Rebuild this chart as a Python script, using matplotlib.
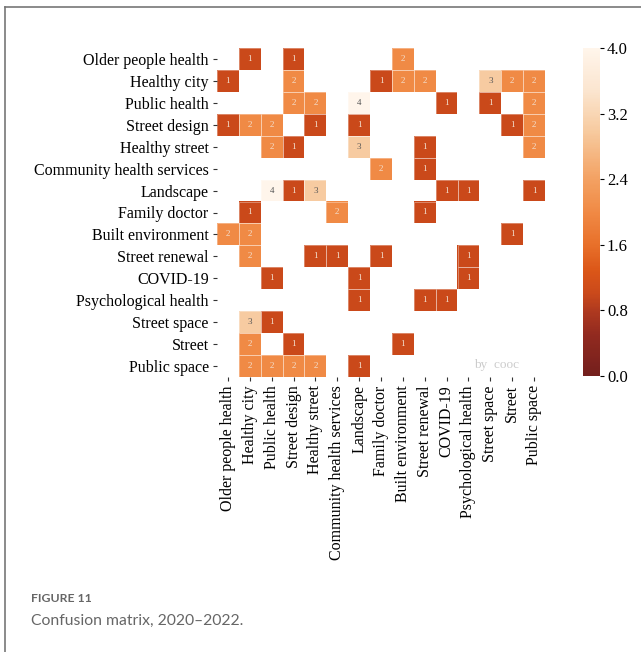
import numpy as np
import matplotlib
matplotlib.use("Agg")
import matplotlib.pyplot as plt
from matplotlib.lines import Line2D
from matplotlib.colors import LinearSegmentedColormap

labels = ["Older people health", "Healthy city", "Public health", "Street design",
          "Healthy street", "Community health services", "Landscape", "Family doctor",
          "Built environment", "Street renewal", "COVID-19", "Psychological health",
          "Street space", "Street", "Public space"]

# non-zero cells: (row, col, count)
cells = [
    (0, 1, 1), (0, 3, 1), (0, 8, 2),
    (1, 0, 1), (1, 3, 2), (1, 7, 1), (1, 8, 2), (1, 9, 2), (1, 12, 3), (1, 13, 2), (1, 14, 2),
    (2, 3, 2), (2, 4, 2), (2, 6, 4), (2, 10, 1), (2, 12, 1), (2, 14, 2),
    (3, 0, 1), (3, 1, 2), (3, 2, 2), (3, 4, 1), (3, 6, 1), (3, 13, 1), (3, 14, 2),
    (4, 2, 2), (4, 3, 1), (4, 6, 3), (4, 9, 1), (4, 14, 2),
    (5, 7, 2), (5, 9, 1),
    (6, 2, 4), (6, 3, 1), (6, 4, 3), (6, 10, 1), (6, 11, 1), (6, 14, 1),
    (7, 1, 1), (7, 5, 2), (7, 9, 1),
    (8, 0, 2), (8, 1, 2), (8, 13, 1),
    (9, 1, 2), (9, 4, 1), (9, 5, 1), (9, 7, 1), (9, 11, 1),
    (10, 2, 1), (10, 6, 1), (10, 11, 1),
    (11, 6, 1), (11, 9, 1), (11, 10, 1),
    (12, 1, 3), (12, 2, 1),
    (13, 1, 2), (13, 3, 1), (13, 8, 1),
    (14, 1, 2), (14, 2, 2), (14, 3, 2), (14, 4, 2), (14, 6, 1),
]
cbar_ticks = [0.0, 0.8, 1.6, 2.4, 3.2, 4.0]

n = len(labels)
mat = np.zeros((n, n))
for r, c, v in cells:
    mat[r, c] = v
masked = np.ma.masked_equal(mat, 0)

plt.rcParams["font.family"] = ["Liberation Serif", "DejaVu Serif"]

# reddish version of Oranges_r, as in the figure
cmap = LinearSegmentedColormap.from_list("rust", [
    (0.0, "#731f1d"), (0.125, "#922a1f"), (0.2, "#b03a1f"), (0.25, "#ca491b"),
    (0.32, "#db5618"), (0.4, "#e8702a"), (0.5, "#f08a45"), (0.6, "#f3a162"),
    (0.75, "#f7cba0"), (0.87, "#fbe5cf"), (1.0, "#fff5eb")])

fig = plt.figure(figsize=(6.41, 6.52), dpi=100)
W, H = 641, 652
ax = fig.add_axes([217 / W, 1 - 377 / H, 328 / W, 329 / H])
cax = fig.add_axes([583 / W, 1 - 376 / H, 17 / W, 328 / H])

im = ax.imshow(masked, cmap=cmap, vmin=0, vmax=4, aspect="auto",
               interpolation="nearest")
for r, c, v in cells:
    ax.add_patch(plt.Rectangle((c - 0.5, r - 0.5), 1, 1, fill=False,
                               edgecolor="white", lw=0.6, alpha=0.4))
    tc = "#f3e0d0" if v < 3 else "#555555"
    ax.text(c, r, f"{int(v)}", ha="center", va="center", fontsize=6.5, color=tc)

ax.set_xticks(range(n))
ax.set_yticks(range(n))
ax.set_xticklabels(labels, rotation=90, fontsize=11.5)
ax.set_yticklabels(labels, fontsize=11.5)
ax.tick_params(length=3, width=0.8, color="#333333", pad=3)
for s in ax.spines.values():
    s.set_visible(False)
ax.text(0.92, 0.035, "by  cooc", transform=ax.transAxes, ha="right", va="center",
        fontsize=9.5, color="#cccccc")

cb = fig.colorbar(im, cax=cax, ticks=cbar_ticks)
cb.outline.set_visible(False)
cb.ax.tick_params(length=3, width=0.8, pad=2)
cb.ax.set_yticklabels([f"{t:.1f}" for t in cbar_ticks],
                      family=["Liberation Serif"], fontsize=12)

# page frame and caption
fig.add_artist(Line2D([5 / W, 5 / W], [0, 1 - 7 / H], color="#777777", lw=1.2))
fig.add_artist(Line2D([5 / W, 1], [1 - 7 / H, 1 - 7 / H], color="#777777", lw=1.2))
fig.text(31 / W, 1 - 598 / H, "FIGURE 11", family=["Lato", "DejaVu Sans"],
         fontweight="bold", fontsize=8.8, color="#666666", va="center")
fig.text(31 / W, 1 - 621 / H, "Confusion matrix, 2020\u20132022.",
         family=["Lato", "DejaVu Sans"], fontsize=11.3, color="#666666", va="center")

fig.savefig("out.png", dpi=100)
